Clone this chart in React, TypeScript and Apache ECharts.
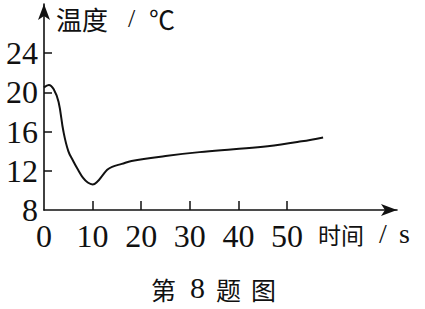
import React, { useEffect, useRef } from "react";
import * as echarts from "echarts";

const times = [0, 1, 2, 3, 4, 5, 6, 7, 8, 9, 10, 11, 12, 13, 14, 16, 18, 25, 32, 39, 46, 53, 57.4];
const temps = [20.5, 20.75, 20.3, 19.0, 16.0, 14.0, 13.0, 12.1, 11.3, 10.8, 10.6, 10.9, 11.5, 12.1, 12.4, 12.7, 13.0, 13.5, 13.9, 14.2, 14.5, 15.0, 15.4];
const xTickLabels = [0, 10, 20, 30, 40, 50];
const xTicks = [10, 20, 30, 40, 50];
const yTickLabels = [8, 12, 16, 20, 24];
const yTicks = [12, 16, 20, 24];
const yNameParts = ["温度", "/", "℃"];
const xNameParts = ["时间", "/", "s"];
const captionParts = ["第", "8", "题", "图"];

export default function App() {
  const ref = useRef<HTMLDivElement>(null);
  useEffect(() => {
    if (!ref.current) return;
    const chart = echarts.init(ref.current, null, { renderer: "svg" });
    const numFont = { fontFamily: "Liberation Serif", fontSize: 32, color: "#111" };
    const cjk = (text: string, left: number, top: number, size: number, serif = false) => ({
      type: "text",
      left,
      top,
      style: { text, fontFamily: serif ? "Liberation Serif" : "Noto Sans CJK SC", fontSize: size, fill: "#111" },
    });
    chart.setOption({
      animation: false,
      backgroundColor: "#fff",
      grid: { left: 44, right: 28, top: 4, bottom: 99 },
      xAxis: {
        type: "value",
        min: 0,
        max: 72.6,
        axisLine: { show: true, symbol: ["none", "arrow"], symbolSize: [9, 16], lineStyle: { color: "#111", width: 1.6 } },
        axisTick: { show: true, inside: true, length: 9, customValues: xTicks, lineStyle: { color: "#111", width: 1.5 } },
        axisLabel: { customValues: xTickLabels, margin: 10, ...numFont },
        splitLine: { show: false },
      },
      yAxis: {
        type: "value",
        min: 8,
        max: 29,
        axisLine: { show: true, symbol: ["none", "arrow"], symbolSize: [9, 16], lineStyle: { color: "#111", width: 1.6 } },
        axisTick: { show: true, inside: true, length: 8, customValues: yTicks, lineStyle: { color: "#111", width: 1.5 } },
        axisLabel: { customValues: yTickLabels, margin: 6, ...numFont },
        splitLine: { show: false },
      },
      graphic: [
        cjk(yNameParts[0], 56, 5, 26),
        cjk(yNameParts[1], 128, 5, 26, true),
        cjk(yNameParts[2], 149, 5, 26),
        cjk(xNameParts[0], 318, 222, 23),
        cjk(xNameParts[1], 379, 219, 28, true),
        cjk(xNameParts[2], 399, 219, 28, true),
        cjk(captionParts[0], 151, 276, 25),
        cjk(captionParts[1], 190, 272, 30, true),
        cjk(captionParts[2], 216, 276, 25),
        cjk(captionParts[3], 251, 276, 25),
      ],
      series: [
        {
          type: "line",
          data: times.map((t, i) => [t, temps[i]]),
          smooth: 0.4,
          symbol: "none",
          lineStyle: { color: "#111", width: 2 },
        },
      ],
    });
    return () => chart.dispose();
  }, []);
  return <div ref={ref} style={{ width: 425, height: 309, position: "absolute", left: 0, top: 0 }} />;
}
